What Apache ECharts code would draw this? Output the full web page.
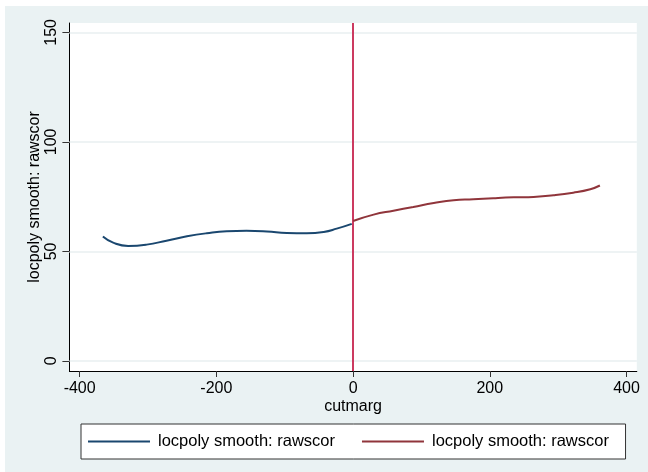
<!DOCTYPE html>
<html>
<head>
<meta charset="utf-8">
<script src="https://cdn.jsdelivr.net/npm/echarts@6/dist/echarts.min.js"></script>
<style>html,body{margin:0;padding:0;background:#fff;}#c{width:648px;height:472px;}</style>
</head>
<body>
<div id="c"></div>
<script>
// Left of cutoff (blue) smooth
const leftX = [-366, -351, -329, -302, -273, -243, -214, -185, -156, -126, -97, -68, -43, -24, -2];
const leftY = [56.8, 54.0, 52.5, 53.1, 54.9, 56.9, 58.3, 59.2, 59.4, 59.1, 58.4, 58.3, 58.9, 60.4, 62.6];
// Right of cutoff (red) smooth
const rightX = [0, 30, 59, 88, 118, 147, 176, 205, 235, 264, 293, 322, 347, 361];
const rightY = [63.9, 66.8, 68.6, 70.3, 72.1, 73.4, 73.8, 74.3, 74.7, 74.9, 75.6, 76.8, 78.4, 80.1];
const xTicks = [-400, -200, 0, 200, 400];
const yTicks = [0, 50, 100, 150];
const cutoff = [0];
const seriesNames = ['locpoly smooth: rawscor', 'locpoly smooth: rawscor '];

const FONT = 'Liberation Sans, Arial, sans-serif';
const chart = echarts.init(document.getElementById('c'), null, {renderer: 'canvas'});
chart.setOption({
  backgroundColor: '#ffffff',
  animation: false,
  graphic: [{
    type: 'rect', z: -100, silent: true,
    shape: {x: 5, y: 6, width: 643, height: 466},
    style: {fill: '#eaf2f3'}
  }],
  grid: {
    left: 69.4, right: 11.2, top: 23, bottom: 101,
    show: true, backgroundColor: '#ffffff', borderWidth: 0, containLabel: false
  },
  xAxis: {
    type: 'value', min: -415, max: 415,
    name: 'cutmarg', nameLocation: 'middle', nameGap: 28, nameMoveOverlap: false,
    nameTextStyle: {fontFamily: FONT, fontSize: 16, color: '#000'},
    axisLine: {show: true, onZero: false, lineStyle: {color: '#000', width: 1}},
    axisTick: {show: true, length: 6, customValues: xTicks, lineStyle: {color: '#333'}},
    axisLabel: {customValues: xTicks, margin: 10, fontFamily: FONT, fontSize: 16, color: '#000'},
    splitLine: {show: false}
  },
  yAxis: {
    type: 'value', min: -4.6, max: 154.3,
    name: 'locpoly smooth: rawscor', nameLocation: 'middle', nameGap: 27, nameMoveOverlap: false,
    nameTextStyle: {fontFamily: FONT, fontSize: 16, color: '#000'},
    axisLine: {show: true, onZero: false, lineStyle: {color: '#000', width: 1}},
    axisTick: {show: true, length: 7, customValues: yTicks, lineStyle: {color: '#333'}},
    axisLabel: {customValues: yTicks, rotate: 90, align: 'center', verticalAlign: 'bottom', margin: 10,
      fontFamily: FONT, fontSize: 16, color: '#000'},
    splitLine: {show: false}
  },
  legend: {
    left: 81, top: 424,
    padding: [9, 12, 9, 7],
    backgroundColor: '#ffffff', borderColor: '#333', borderWidth: 1,
    itemWidth: 62, itemHeight: 2, itemGap: 27, icon: 'rect',
    textStyle: {fontFamily: FONT, fontSize: 16.5, color: '#000', lineHeight: 17, padding: [0, 0, 0, 3]},
    data: seriesNames
  },
  series: [
    {
      name: seriesNames[0], type: 'line', smooth: true, showSymbol: false, symbol: 'none',
      data: leftX.map((x, i) => [x, leftY[i]]),
      lineStyle: {color: '#1a476f', width: 2}, itemStyle: {color: '#1a476f'},
      z: 3,
      markLine: {
        silent: true, symbol: 'none', label: {show: false}, z: 1,
        lineStyle: {color: '#e8eff1', width: 1.5, type: 'solid'},
        data: yTicks.map(v => ({yAxis: v}))
      }
    },
    {
      name: seriesNames[1], type: 'line', smooth: true, showSymbol: false, symbol: 'none',
      data: rightX.map((x, i) => [x, rightY[i]]),
      lineStyle: {color: '#90353b', width: 2}, itemStyle: {color: '#90353b'},
      z: 3,
      markLine: {
        silent: true, symbol: 'none', label: {show: false}, z: 2,
        lineStyle: {color: '#cc3a60', width: 2, type: 'solid'},
        data: cutoff.map(v => ({xAxis: v}))
      }
    }
  ]
});
</script>
</body>
</html>
